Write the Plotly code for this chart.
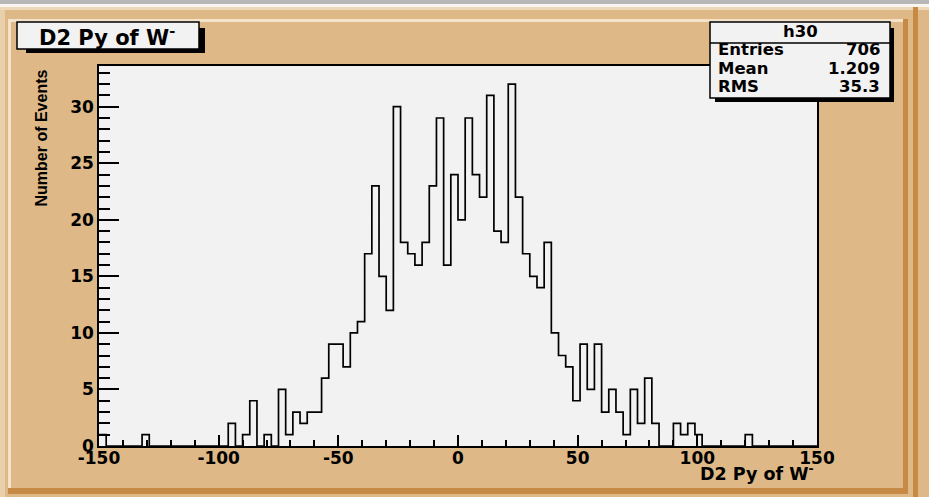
import plotly.graph_objects as go

# Histogram h30: D2 Py of W-, 100 bins from -150 to 150
hist_name = "h30"
x_low = -150.0
x_high = 150.0
n_bins = 100
counts = [
    1, 0, 0, 0, 0, 0, 1, 0, 0, 0,
    0, 0, 0, 0, 0, 0, 0, 0, 2, 0,
    1, 4, 0, 1, 0, 5, 1, 3, 2, 3,
    3, 6, 9, 9, 7, 10, 11, 17, 23, 15,
    12, 30, 18, 17, 16, 18, 23, 29, 16, 24,
    20, 29, 24, 22, 31, 19, 18, 32, 22, 17,
    15, 14, 18, 10, 8, 7, 4, 9, 5, 9,
    3, 5, 3, 1, 5, 2, 6, 2, 0, 0,
    2, 1, 2, 1, 0, 0, 0, 0, 0, 0,
    1, 0, 0, 0, 0, 0, 0, 0, 0, 0,
]
stat_labels = ["Entries", "Mean", "RMS"]
stat_values = ["706", "1.209", "35.3"]
x_tick_vals = [-150, -100, -50, 0, 50, 100, 150]
x_tick_text = ["-150", "-100", "-50", "0", "50", "100", "150"]
y_tick_vals = [0, 5, 10, 15, 20, 25, 30]

title_text = "D2 Py of W<sup>-</sup>"
x_title = "D2 Py of W<sup>-</sup>"
y_title = "Number of Events"

W, H = 929, 497
L, R, T, B = 99, 817, 66, 446

width = (x_high - x_low) / n_bins
edges = [x_low + i * width for i in range(n_bins + 1)]
y_max = 1.05 * max(counts)

# step outline: one point per bin low edge, plus the closing edge
step_x = edges
step_y = counts + [counts[-1]]

TAN = "#DEB887"
LIGHT = "#F3E3CB"
DARK = "#C68A45"
FONT = "DejaVu Sans"


def px(x):
    return (x - L) / (R - L)


def py(y):
    return (B - y) / (B - T)


def rect(x0, y0, x1, y1, fill, line=None, lw=0, layer="above"):
    d = dict(type="rect", xref="paper", yref="paper",
             x0=px(x0), x1=px(x1), y0=py(y1), y1=py(y0),
             fillcolor=fill, layer=layer,
             line=dict(width=lw, color=line or fill))
    if lw == 0:
        d["line"] = dict(width=0)
    return d


def hline(x0, x1, y, color="black", lw=1.5):
    return dict(type="line", xref="paper", yref="paper",
                x0=px(x0), x1=px(x1), y0=py(y), y1=py(y),
                line=dict(color=color, width=lw), layer="above")


fig = go.Figure()
fig.add_trace(go.Scatter(
    x=step_x, y=step_y, mode="lines", line_shape="hv",
    line=dict(color="black", width=1.7), hoverinfo="skip", showlegend=False,
))

shapes = [
    # window strip and canvas / pad bevels
    rect(0, 0, W, 4, "#B7B7B7", layer="below"),
    rect(0, 4, W, 7, "#FAF5EE", layer="below"),
    rect(0, 7, W, 10, "#EDD8BA", layer="below"),
    rect(0, 10, 5, H, "#E9D0AD", layer="below"),
    rect(913, 7, 918, H, DARK, layer="below"),
    rect(8, 19, 906, 22, LIGHT, layer="below"),
    rect(8, 19, 11, 494, LIGHT, layer="below"),
    rect(903, 19, 908, 494, DARK, layer="below"),
    rect(8, 488, 908, 494, DARK, layer="below"),
    # title box with drop shadow
    rect(26, 28, 205, 53, "black"),
    rect(17, 22, 199, 49, "#F2F2F2", "black", 1.5),
    # statistics box with drop shadow
    rect(715, 28, 894, 102, "black"),
    rect(710, 22, 890, 98, "#F2F2F2", "black", 1.5),
    hline(710, 890, 43),
]

annotations = [
    dict(text=title_text, x=px(107), y=py(35.5), xref="paper", yref="paper",
         showarrow=False, xanchor="center", yanchor="middle",
         font=dict(family=FONT, size=21, color="black", weight="bold")),
    dict(text=hist_name, x=px(800), y=py(32), xref="paper", yref="paper",
         showarrow=False, xanchor="center", yanchor="middle",
         font=dict(family=FONT, size=16.5, color="black", weight="bold")),
    dict(text=x_title, x=px(816), y=py(460), xref="paper", yref="paper",
         showarrow=False, xanchor="right", yanchor="top",
         font=dict(family=FONT, size=17.5, color="black", weight="bold")),
    dict(text=y_title, x=px(41), y=py(68), xref="paper", yref="paper",
         showarrow=False, xanchor="center", yanchor="top", textangle=-90,
         font=dict(family="Liberation Sans", size=16, color="black", weight="bold")),
]
row_y = [49.5, 68, 86.5]
for lab, val, yy in zip(stat_labels, stat_values, row_y):
    annotations.append(dict(text=lab, x=px(716), y=py(yy), xref="paper", yref="paper",
                            showarrow=False, xanchor="left", yanchor="middle",
                            font=dict(family=FONT, size=16.5, color="black", weight="bold")))
    annotations.append(dict(text=val, x=px(882), y=py(yy), xref="paper", yref="paper",
                            showarrow=False, xanchor="right", yanchor="middle",
                            font=dict(family=FONT, size=16.5, color="black", weight="bold")))

tickfont = dict(family=FONT, size=17, color="black", weight="bold")

fig.update_layout(
    width=W, height=H,
    margin=dict(l=L, r=W - R, t=T, b=H - B, pad=0),
    paper_bgcolor=TAN, plot_bgcolor="#F2F2F2",
    shapes=shapes, annotations=annotations, showlegend=False,
    xaxis=dict(
        range=[x_low, x_high], showgrid=False, zeroline=False,
        showline=True, mirror=True, linecolor="black", linewidth=1.5,
        tickmode="array", tickvals=x_tick_vals, ticktext=x_tick_text,
        ticks="inside", ticklen=11, tickwidth=1.5, tickcolor="black",
        tickfont=tickfont, ticklabelstandoff=-4,
        minor=dict(tickmode="linear", tick0=x_low, dtick=10, ticks="inside",
                   ticklen=6, tickwidth=1.5, tickcolor="black", showgrid=False),
    ),
    yaxis=dict(
        range=[0, y_max], showgrid=False, zeroline=False,
        showline=True, mirror=True, linecolor="black", linewidth=1.5,
        tickmode="array", tickvals=y_tick_vals,
        ticks="inside", ticklen=20, tickwidth=1.5, tickcolor="black",
        tickfont=tickfont,
        minor=dict(tickmode="linear", tick0=0, dtick=1, ticks="inside",
                   ticklen=11, tickwidth=1.5, tickcolor="black", showgrid=False),
    ),
)

fig.write_html("out.html")
